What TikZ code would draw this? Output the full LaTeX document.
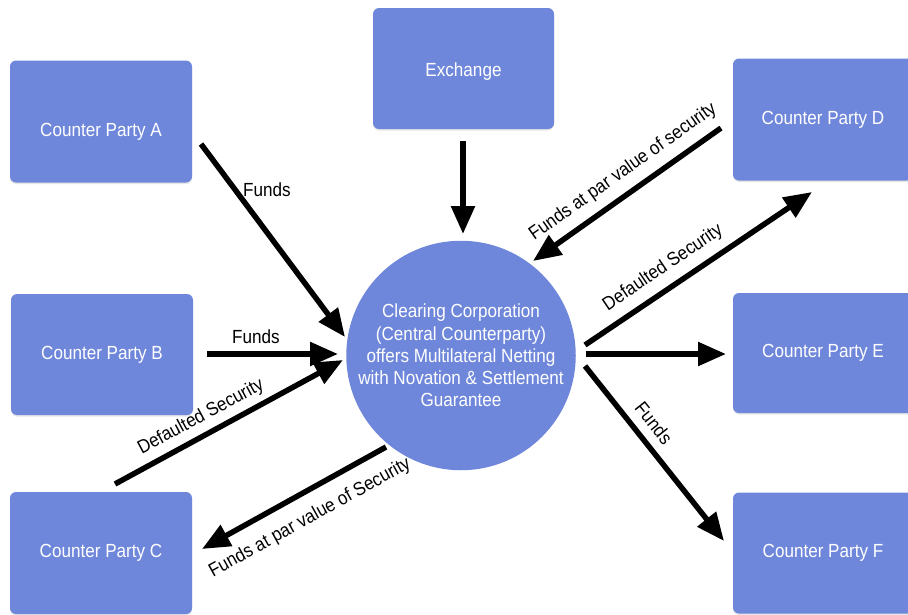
\documentclass[tikz,border=0pt]{standalone}
\usepackage{fontspec}
\setmainfont[FakeStretch=0.9]{Liberation Sans}
\usetikzlibrary{arrows.meta,shadows}
\definecolor{boxblue}{RGB}{111,135,218}
\tikzset{
  party/.style={draw=none, fill=boxblue, rounded corners=6pt, text=white,
    minimum width=182pt, minimum height=122pt, inner sep=0pt,
    font=\fontsize{19}{22}\selectfont,
    drop shadow={opacity=0.2, shadow xshift=0pt, shadow yshift=-1.5pt}},
  hub/.style={circle, draw=none, fill=boxblue, text=white, minimum size=214pt,
    inner sep=0pt, align=center, font=\fontsize{19}{22.2}\selectfont},
  flow/.style={line width=5.5pt, -{Triangle[length=28pt,width=23pt]}},
  lbl/.style={text=black, inner sep=0pt, font=\fontsize{19}{22}\selectfont}
}
\begin{document}
\begin{tikzpicture}[x=1pt,y=-1pt]
\useasboundingbox (0,0) rectangle (908,614);
% nodes
\node[party] (A) at (101,121.5) {\raisebox{-14.5pt}[0pt][0pt]{Counter Party A}};
\node[party, minimum width=181pt, minimum height=121pt] (X) at (463.5,68.5) {\raisebox{-7.5pt}[0pt][0pt]{Exchange}};
\node[party, minimum width=180pt] (D) at (823,119.5) {Counter Party D};
\node[party, minimum height=121pt] (B) at (102,354.5) {Counter Party B};
\node[party, minimum width=180pt, minimum height=120pt] (E) at (823,353) {Counter Party E};
\node[party] (C) at (101,553) {Counter Party C};
\node[party, minimum width=180pt, minimum height=121pt] (F) at (823,553) {Counter Party F};
\node[hub] (H) at (461,355.5) {Clearing Corporation\\(Central Counterparty)\\offers Multilateral Netting\\with Novation \& Settlement\\Guarantee};
% connector end points
\coordinate (a1) at (201,144);   \coordinate (a2) at (345,337);
\coordinate (x1) at (463,141);   \coordinate (x2) at (463,234);
\coordinate (b1) at (207,354);   \coordinate (b2) at (338,354);
\coordinate (c1) at (115,484);   \coordinate (c2) at (343,360);
\coordinate (c3) at (386,447);   \coordinate (c4) at (202,549);
\coordinate (d1) at (721,128);   \coordinate (d2) at (533,261);
\coordinate (d3) at (585,345);   \coordinate (d4) at (812,192);
\coordinate (e1) at (586,354);   \coordinate (e2) at (726,354);
\coordinate (f1) at (585,366);   \coordinate (f2) at (724,541);
% connectors
\draw[flow] (a1) -- (a2);
\draw[flow] (x1) -- (x2);
\draw[flow] (b1) -- (b2);
\draw[flow] (c1) -- (c2);
\draw[flow] (c3) -- (c4);
\draw[flow] (d1) -- (d2);
\draw[flow] (d3) -- (d4);
\draw[flow] (e1) -- (e2);
\draw[flow] (f1) -- (f2);
% labels
\node[lbl] (la) at (267,190) {Funds};
\node[lbl] (lb) at (256,337) {Funds};
\node[lbl, rotate=28.3] (lc) at (201,417) {Defaulted Security};
\node[lbl, rotate=29] (lc2) at (310,518) {Funds at par value of Security};
\node[lbl, rotate=35.3] (ld) at (623,172) {Funds at par value of security};
\node[lbl, rotate=34] (ld2) at (663,268) {Defaulted Security};
\node[lbl, rotate=-51.5] (lf) at (654,423) {Funds};
\end{tikzpicture}
\end{document}
